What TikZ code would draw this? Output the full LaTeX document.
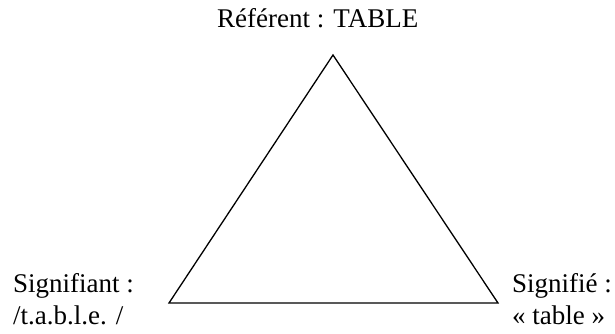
\documentclass[tikz,border=0pt]{standalone}
\usepackage{fontspec}
\setmainfont{Liberation Serif}
\begin{document}
\begin{tikzpicture}[x=1pt,y=-1pt,
  lbl/.style={inner sep=0pt,anchor=base west,font=\fontsize{27}{31}\selectfont},
  tri/.style={line width=1.3pt,line join=miter}]
\useasboundingbox (0,0) rectangle (615,333);
\coordinate (apex) at (333,55);
\coordinate (left) at (169,303);
\coordinate (right) at (498,303);
\draw[tri] (apex) -- (left) -- (right) -- cycle;
\node[lbl] (ref) at (217,27) {Référent : TABLE};
\node[lbl] (sa1) at (13,292) {Signifiant :};
\node[lbl] (sa2) at (13,324) {/t.a.b.l.e. /};
\node[lbl] (se1) at (512,292) {Signifié :};
\node[lbl] (se2) at (512,324) {« table »};
\end{tikzpicture}
\end{document}
